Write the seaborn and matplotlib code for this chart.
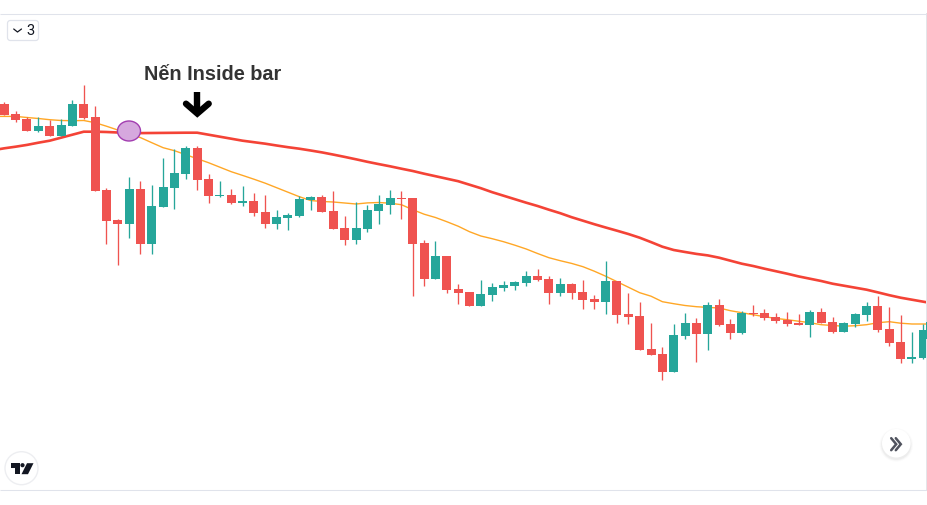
import numpy as np
import pandas as pd
import seaborn as sns
import matplotlib
matplotlib.use("Agg")
import matplotlib.pyplot as plt
from matplotlib.patches import Ellipse, FancyBboxPatch, Polygon, Rectangle

# Values are read in chart units (picture scale, larger = lower on the inverted price axis)
body_top = [104,114,119,126,126,125,104,104,117,190,220,189,189,206,187,173,148,148,179,195,195,201,201,212,217,215,199,
            197,197,211,228,228,210,204,198,198,198,243,256,256,289,292,294,287,285,282,276,276,279,284,284,292,299,281,
            281,314,316,349,354,335,323,323,305,305,324,313,313,313,317,320,323,312,312,322,323,314,306,306,329,342,357,330,322]
body_bot = [115,120,131,131,136,136,126,118,191,221,224,224,244,244,207,188,174,180,196,196,203,203,213,224,224,218,216,
            200,212,229,240,240,229,211,205,199,244,279,279,290,293,306,306,295,288,286,283,280,293,293,293,300,302,302,
            315,317,350,355,372,372,336,334,334,325,333,333,314,318,321,324,325,325,323,332,332,324,315,330,343,359,359,358,339]
wick_high = [102.7,111,117.3,117,120,119,100,85,106,188,219,177,181,185,158,149,146,146,174,181,189,186,193,195,210,213,196,
             196,195,191,216,202,205,195,190,191,198,240,241,256,284,292,280,283,281,281,271,269,276,278,283,280,295,261,
             281,293,302,323,347,324,313,318,302,299,319,311,305,309,313,312,314,310,308,317,322,313,302,296,307,315,332,324,322]
wick_low = [115,122.7,131,132,136,136,126,119,191,244,265,238,254,254,207,209,179,190,203,197,204,206,216,228,229,230,217,
            210,212,229,245,244,232,224,214,219,296,286,279,293,304,306,306,301,291,290,286,281,304,296,299,309,309,314,
            323,324,350,355,380,372,339,362,350,326,339,334,316,320,323,326,325,337,323,333,332,327,321,332,346,363,363,359,339]
direction = list("RRRTRTTRRRRTRTTTTRRTRTRRTTTTRRRTTTTRRRTRRRTTTTTRRTRRRTRRRRRTTRTRRTRRRRRTRRTTTRRRTTT")
# moving averages start one bar before the first visible candle
ma_slow = [150.5,148.6,147,145.2,143,141,138,135,132,132,132.3,132.8,133.2,133.4,133.3,133.2,133.1,133,133,135,137,139,141,142.5,
           144,145.8,147.5,149,150.8,152.7,154.9,157.2,159.6,162.1,164.4,166.6,169,171.3,174,176.5,179,181.5,185,188.5,192.5,
           196,199.5,203,206.3,210,213.5,217.5,221,224.5,227.8,231,234.3,238,242.4,247,250.3,252.3,254.2,255.7,258,261,
           264,266.3,269,271.5,274,276.7,279,281.3,284,286,288,290,292.7,295.5,298,300,302,304]
ma_fast = [116.7,116.7,116.7,117.8,118.8,120,120.8,121,120.8,123,126.5,130.3,134,137.9,143,148,151,155,159,163,167.5,172,175.7,
           179.5,183.5,188,192.5,197,200.8,201.8,202.3,203.3,204.3,203.2,202.8,203.5,205,210,214.5,217.8,222,226.5,232,
           236.3,239,242,245.5,249.3,253.8,258,261,263.7,267,271.5,276.5,282,287.5,293,296.5,302,304,305.8,307,307.7,308.3,
           311,313,315,317,318.7,320,321.5,323,325,325.8,326.5,326,325,323,322,323.5,324.3,324.3,324.3]
annotation = "Nến Inside bar"
pane_label = "3"

UP, DOWN = "#26A69A", "#EF5350"
bars = np.arange(len(body_top))
line_bars = np.arange(-1, len(body_top))
df = pd.DataFrame(dict(bar=bars, top=body_top, bot=body_bot, hi=wick_high, lo=wick_low, d=direction))
df["size"] = df.bot - df.top

sns.set_theme(style="white")
plt.rcParams["font.family"] = ["Liberation Sans", "DejaVu Sans"]

fig = plt.figure(figsize=(9.28, 5.06), dpi=100, facecolor="white")
ax = fig.add_axes([0, 0, 1, 1])
XL = (-4.3 / 11.346, (928 - 4.3) / 11.346)


def X(px):
    return (px - 4.3) / 11.346


sns.lineplot(x=line_bars, y=ma_fast, ax=ax, color="#FFA726", lw=1.0, zorder=1, errorbar=None)
sns.lineplot(x=line_bars, y=ma_slow, ax=ax, color="#F44336", lw=1.9, zorder=1, errorbar=None)
for code, col in (("T", UP), ("R", DOWN)):
    s = df[df.d == code]
    ax.vlines(s.bar, s.hi, s.lo, color=col, lw=0.95, zorder=2, snap=True)
    sns.barplot(data=s, x="bar", y="size", bottom=s.top.values, native_scale=True, width=0.8,
                color=col, saturation=1, errorbar=None, linewidth=0, ax=ax, zorder=3)
for p in ax.patches:
    c = p.get_x() + p.get_width() / 2
    p.set_width(9 / 11.346)
    p.set_x(c - 4.5 / 11.346)
    if c > 81.5:  # the last candle, partly hidden at the pane edge
        p.set_x(X(925.8))
        p.set_zorder(7)
ax.set_xlim(*XL)
ax.set_ylim(505.3, -0.7)
ax.set_axis_off()

# pane edges
ax.add_patch(Rectangle((X(926.5), 13), 2, 478, fc="#E4E5E9", ec="none", zorder=5))
ax.add_patch(Rectangle((X(-1), 491), 100, 20, fc="white", ec="none", zorder=5))
ax.hlines([13.8, 490.8], XL[0], X(927.5), color="#E0E3EB", lw=0.75, zorder=6)

# marker and annotation
ax.add_patch(Ellipse((X(129), 131.3), 23 / 11.346, 20, fc="#D6A8DE", ec="#A23DB0", lw=1, zorder=7))
ax.text(X(213), 79.5, annotation, ha="center", va="baseline", fontsize=14.3, fontweight="bold", color="#333333", zorder=8)
ax.plot([X(197.3)] * 2, [92, 113.5], color="black", lw=4.6, solid_capstyle="butt", zorder=8)
ax.plot([X(186), X(197.3), X(208.7)], [104, 113.8, 104], color="black", lw=4.6,
        solid_capstyle="round", solid_joinstyle="miter", zorder=8)

# pane-count badge
ax.add_patch(FancyBboxPatch((X(7.5), 20.8), 31 / 11.346, 20, boxstyle="round,pad=0,rounding_size=0.25",
                            mutation_aspect=11.346, fc="white", ec="#E0E3EB", lw=0.9, zorder=8))
ax.plot([X(13.7), X(17.5), X(21.5)], [29.3, 32.3, 29.3], color="#131722", lw=0.9, zorder=9)
ax.text(X(30.8), 30.6, pane_label, ha="center", va="center", fontsize=10.5, color="#131722", family="Roboto", zorder=9)

# logo
ax.add_patch(Ellipse((X(21.5), 468.5), 33 / 11.346, 33, fc="white", ec="#EDEEF1", lw=1, zorder=8))
ax.add_patch(Polygon([(X(11), 463.5), (X(20), 463.5), (X(20), 474.5), (X(15.5), 474.5), (X(15.5), 468), (X(11), 468)],
                     fc="#131722", ec="none", zorder=9))
ax.add_patch(Ellipse((X(22.5), 465.5), 4.2 / 11.346, 4.2, fc="#131722", ec="none", zorder=9))
ax.add_patch(Polygon([(X(27), 463.5), (X(33.5), 463.5), (X(28), 474.5), (X(21.5), 474.5)], fc="#131722", ec="none", zorder=9))

# scroll button
for off, alpha in ((2.5, .015), (1.5, .025), (0.7, .03)):
    ax.add_patch(Ellipse((X(896.3), 445.2), (28.6 + off * 2) / 11.346, 28.6 + off * 2, fc="black", alpha=alpha, ec="none", zorder=7))
ax.add_patch(Ellipse((X(896.3), 443.5), 28.6 / 11.346, 28.6, fc="white", ec="none", zorder=8))
for dx in (0, 4.6):
    ax.plot([X(891.2 + dx), X(896.2 + dx), X(891.2 + dx)], [438.5, 444.5, 450.5], color="#50535E", lw=1.8, zorder=9,
            solid_joinstyle="miter")

fig.savefig("out.png", dpi=100, facecolor="white")
